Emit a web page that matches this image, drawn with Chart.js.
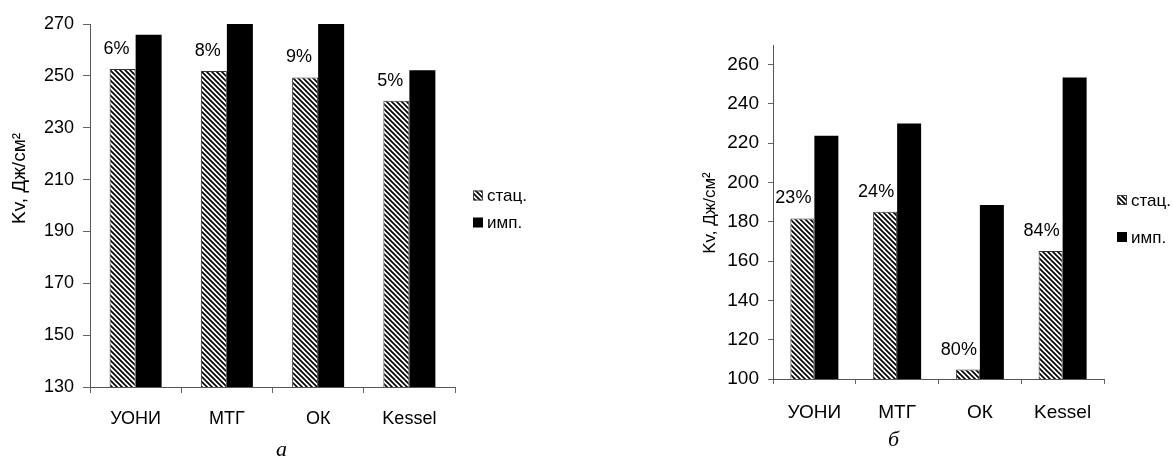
<!DOCTYPE html>
<html>
<head>
<meta charset="utf-8">
<script src="https://cdn.jsdelivr.net/npm/chart.js@4/dist/chart.umd.min.js"></script>
<style>
  body { margin: 0; background: #fff; width: 1172px; height: 459px; overflow: hidden; position: relative; }
  canvas { position: absolute; top: 0; }
  #chartA { left: 0; }
  #chartB { left: 586px; }
  .sub { position: absolute; font-family: 'Liberation Serif', serif; font-style: italic; font-size: 22px; color: #000; }
</style>
</head>
<body>
<canvas id="chartA" width="586" height="459"></canvas>
<canvas id="chartB" width="586" height="459"></canvas>
<div class="sub" style="left:276px; top:436px;">а</div>
<div class="sub" style="left:888px; top:426px;">б</div>
<script>
// data
var categories = ['УОНИ', 'МТГ', 'ОК', 'Kessel'];
var seriesNames = ['стац.', 'имп.'];
var axisTitle = 'Kv, Дж/см²';

var statA = [252.6, 251.9, 249.4, 240.4];
var impA  = [265.9, 272, 272, 252.2];
var pctA  = ['6%', '8%', '9%', '5%'];
var yRangeA = [130, 270];
var yTicksA = [130, 150, 170, 190, 210, 230, 250, 270];

var statB = [181.7, 185.1, 104.8, 165.2];
var impB  = [223.8, 230.1, 188.5, 253.5];
var pctB  = ['23%', '24%', '80%', '84%'];
var yRangeB = [100, 270];
var yTicksB = [100, 120, 140, 160, 180, 200, 220, 240, 260];

function make_hatch() {
  var c = document.createElement('canvas');
  c.width = 5; c.height = 5;
  var g = c.getContext('2d');
  g.fillStyle = '#fff';
  g.fillRect(0, 0, 5, 5);
  g.strokeStyle = '#000';
  g.lineWidth = 1.7;
  g.beginPath();
  g.moveTo(-1, -1); g.lineTo(6, 6);
  g.moveTo(-1, 4); g.lineTo(1, 6);
  g.moveTo(4, -1); g.lineTo(6, 1);
  g.stroke();
  return g.createPattern(c, 'repeat');
}

// percentage labels, legend and rotated axis title
var extrasPlugin = {
  id: 'extras',
  afterDraw: function(chart) {
    var o = chart.options.plugins.extras;
    var ctx = chart.ctx;
    var area = chart.chartArea;
    var meta = chart.getDatasetMeta(0);
    ctx.save();
    ctx.fillStyle = '#000';
    ctx.font = o.pctFont;
    ctx.textAlign = 'center';
    ctx.textBaseline = 'middle';
    meta.data.forEach(function(bar, i) {
      ctx.fillText(o.pct[i], bar.x + o.pctShift, bar.y - o.pctRise);
    });

    // legend
    var mid = (area.top + area.bottom) / 2;
    var lx = area.right + o.legendGap;
    ctx.font = o.legendFont;
    ctx.textAlign = 'left';
    chart.data.datasets.forEach(function(ds, i) {
      var cy = mid + o.legendRows[i];
      ctx.fillStyle = ds.backgroundColor;
      ctx.fillRect(lx, cy - 5, 10, 10);
      if (i === 0) {
        ctx.strokeStyle = '#444';
        ctx.lineWidth = 1;
        ctx.strokeRect(lx + 0.5, cy - 4.5, 9, 9);
      }
      ctx.fillStyle = '#000';
      ctx.fillText(ds.label, lx + 14, cy + 1);
    });

    // axis title
    ctx.translate(o.titleX, mid + o.titleShift);
    ctx.rotate(-Math.PI / 2);
    ctx.font = o.titleFont;
    ctx.textAlign = 'center';
    ctx.fillText(axisTitle, 0, 0);
    ctx.restore();
  }
};

function create_chart(id, stat, imp, pct, yRange, yTicks, cfg) {
  var ctx = document.getElementById(id).getContext('2d');
  return new Chart(ctx, {
    type: 'bar',
    data: {
      labels: categories,
      datasets: [
        {
          label: seriesNames[0],
          data: stat,
          backgroundColor: make_hatch(),
          borderColor: '#333',
          borderWidth: 1,
          categoryPercentage: cfg.catPct,
          barPercentage: 1
        },
        {
          label: seriesNames[1],
          data: imp,
          backgroundColor: '#000',
          borderWidth: 0,
          categoryPercentage: cfg.catPct,
          barPercentage: 1
        }
      ]
    },
    options: {
      responsive: false,
      animation: false,
      layout: { padding: { left: 0, top: cfg.top, right: cfg.right, bottom: 0 } },
      scales: {
        x: {
          grid: { offset: true, drawOnChartArea: false, tickLength: cfg.xTick, color: '#666' },
          border: { color: '#555' },
          ticks: { color: '#000', font: cfg.tickFont, padding: cfg.xPad },
          afterFit: function(s) { s.height = cfg.xHeight; }
        },
        y: {
          min: yRange[0],
          max: yRange[1],
          grid: { drawOnChartArea: false, tickLength: cfg.yTick, color: '#666' },
          border: { color: '#555' },
          ticks: { color: '#000', font: cfg.tickFont, padding: 9 },
          afterBuildTicks: function(s) {
            s.ticks = yTicks.map(function(v) { return { value: v }; });
          },
          afterFit: function(s) { s.width = cfg.yWidth; }
        }
      },
      plugins: {
        legend: { display: false },
        tooltip: { enabled: false },
        extras: {
          pct: pct,
          pctFont: cfg.pctFont,
          pctShift: cfg.pctShift,
          pctRise: 20,
          legendFont: cfg.legendFont,
          legendGap: cfg.legendGap,
          legendRows: cfg.legendRows,
          titleFont: cfg.titleFont,
          titleX: cfg.titleX,
          titleShift: cfg.titleShift
        }
      }
    },
    plugins: [extrasPlugin]
  });
}

create_chart('chartA', statA, impA, pctA, yRangeA, yTicksA, {
  catPct: 0.57, top: 24, right: 131, xHeight: 72, yWidth: 90,
  xTick: 6, yTick: 7, xPad: 15,
  tickFont: { family: 'Liberation Sans', size: 18 },
  pctFont: "18px 'Liberation Sans'",
  pctShift: -6,
  legendFont: "17px 'Liberation Sans'",
  legendGap: 18, legendRows: [-10, 17],
  titleFont: "19px 'Liberation Sans'", titleX: 20, titleShift: -27
});

create_chart('chartB', statB, impB, pctB, yRangeB, yTicksB, {
  catPct: 0.58, top: 45, right: 68, xHeight: 80, yWidth: 187,
  xTick: 5, yTick: 5, xPad: 17,
  tickFont: { family: 'Liberation Sans', size: 19 },
  pctFont: "18px 'Liberation Sans'",
  pctShift: -9,
  legendFont: "17px 'Liberation Sans'",
  legendGap: 13, legendRows: [-12, 25],
  titleFont: "17px 'Liberation Sans'", titleX: 124, titleShift: 1
});
</script>
</body>
</html>
